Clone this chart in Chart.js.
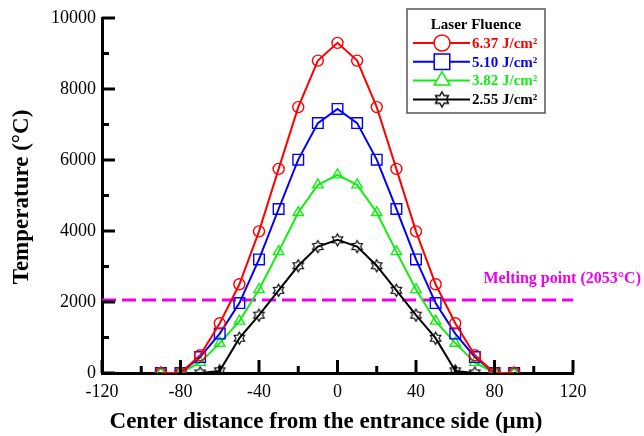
<!DOCTYPE html>
<html>
<head>
<meta charset="utf-8">
<script src="https://cdn.jsdelivr.net/npm/chart.js@4"></script>
<style>
  html, body { margin: 0; padding: 0; background: #fff; }
  #wrap { width: 644px; height: 436px; }
</style>
</head>
<body>
<div id="wrap"><canvas id="chart" width="644" height="436"></canvas></div>
<script>
// Center distance (µm) and temperature (°C) for each laser fluence
const distances = [-90, -80, -70, -60, -50, -40, -30, -20, -10, 0, 10, 20, 30, 40, 50, 60, 70, 80, 90];
const temp637 = [0, 0, 500, 1400, 2500, 3990, 5750, 7490, 8800, 9300, 8800, 7490, 5750, 3990, 2500, 1400, 500, 0, 0];
const temp510 = [0, 0, 450, 1110, 1970, 3200, 4620, 6010, 7040, 7440, 7040, 6010, 4620, 3200, 1970, 1110, 450, 0, 0];
const temp382 = [0, 0, 300, 840, 1460, 2350, 3420, 4520, 5300, 5580, 5300, 4520, 3420, 2350, 1460, 840, 300, 0, 0];
const temp255 = [0, 0, 0, 60, 980, 1630, 2330, 3020, 3560, 3750, 3560, 3020, 2330, 1630, 980, 60, 0, 0, 0];
const seriesLabels = ['6.37 J/cm²', '5.10 J/cm²', '3.82 J/cm²', '2.55 J/cm²'];
const meltingPoint = 2053;
const meltingLabel = 'Melting point (2053°C)';
const xTickLabels = [-120, -80, -40, 0, 40, 80, 120];
const yTickLabels = [0, 2000, 4000, 6000, 8000, 10000];

const SERIF = '"Liberation Serif", "Times New Roman", serif';
const RED = '#ff0000', BLUE = '#0000ff', GREEN = '#11ee11', BLACK = '#000000', MAGENTA = '#ee00ee';

// hollow six-pointed star marker
function hexagram(r, color, lw) {
    const s = Math.ceil(2 * r + lw * 2 + 2);
    const c = document.createElement('canvas');
    c.width = c.height = s;
    const g = c.getContext('2d');
    g.strokeStyle = color;
    g.lineWidth = lw;
    g.lineJoin = 'miter';
    g.beginPath();
    for (let k = 0; k < 12; k++) {
        const ang = -Math.PI / 2 + k * Math.PI / 6;
        const rr = k % 2 === 0 ? r : r / Math.sqrt(3);
        g.lineTo(s / 2 + rr * Math.cos(ang), s / 2 + rr * Math.sin(ang));
    }
    g.closePath();
    g.stroke();
    return c;
}

const toPoints = arr => distances.map((d, i) => ({ x: d, y: arr[i] }));

const series = (label, values, color, style, radius, legendRadius) => ({
    label,
    data: toPoints(values),
    borderColor: color,
    backgroundColor: 'transparent',
    borderWidth: 2,
    pointStyle: style,
    pointRadius: radius,
    pointBorderWidth: 1.4,
    pointBorderColor: color,
    pointBackgroundColor: 'transparent',
    tension: 0,
    legendRadius,
});

const datasets = [
    series(seriesLabels[0], temp637, RED, 'circle', 5.5, 8),
    series(seriesLabels[1], temp510, BLUE, 'rect', 7.5, 11),
    series(seriesLabels[2], temp382, GREEN, 'triangle', 6, 9),
    series(seriesLabels[3], temp255, BLACK, hexagram(6, BLACK, 1.2), 6, 0),
    {
        label: 'melting',
        data: [{ x: -120, y: meltingPoint }, { x: 120, y: meltingPoint }],
        borderColor: MAGENTA,
        borderWidth: 3,
        borderDash: [14, 6],
        pointRadius: 0,
        legendHidden: true,
    },
];
datasets[3].legendStyle = hexagram(7.5, BLACK, 1.4);

// inward tick marks, axis titles, legend box and melting label
const decor = {
    id: 'decor',
    afterDatasetsDraw(chart) {
        const { ctx, chartArea: a, scales: { x, y } } = chart;
        ctx.save();
        ctx.strokeStyle = '#000';
        ctx.lineWidth = 3;
        x.ticks.forEach(t => {
            const px = x.getPixelForValue(t.value);
            const len = xTickLabels.includes(t.value) ? 13 : 7;
            ctx.beginPath();
            ctx.moveTo(px, a.bottom);
            ctx.lineTo(px, a.bottom - len);
            ctx.stroke();
        });
        y.ticks.forEach(t => {
            const py = y.getPixelForValue(t.value);
            const len = yTickLabels.includes(t.value) ? 13 : 7;
            ctx.beginPath();
            ctx.moveTo(a.left, py);
            ctx.lineTo(a.left + len, py);
            ctx.stroke();
        });

        // axis titles
        ctx.fillStyle = '#000';
        ctx.font = 'bold 23px ' + SERIF;
        ctx.textAlign = 'center';
        ctx.textBaseline = 'middle';
        ctx.fillText('Center distance from the entrance side (μm)', 326, 422);
        ctx.save();
        ctx.translate(22, 197);
        ctx.rotate(-Math.PI / 2);
        ctx.fillText('Temperature (°C)', 0, 0);
        ctx.restore();

        // melting point label
        ctx.fillStyle = MAGENTA;
        ctx.font = 'bold 16px ' + SERIF;
        ctx.textAlign = 'right';
        ctx.fillText(meltingLabel, 641, y.getPixelForValue(meltingPoint) - 21);

        // legend
        const bx = 407, by = 9, bw = 138, bh = 104;
        ctx.fillStyle = '#fff';
        ctx.fillRect(bx, by, bw, bh);
        ctx.strokeStyle = '#555';
        ctx.lineWidth = 1.5;
        ctx.strokeRect(bx, by, bw, bh);
        ctx.fillStyle = '#000';
        ctx.font = 'bold 15px ' + SERIF;
        ctx.textAlign = 'center';
        ctx.fillText('Laser Fluence', 476, 25);
        ctx.textAlign = 'left';
        chart.data.datasets.filter(d => !d.legendHidden).forEach((d, i) => {
            const ly = 43 + i * 18.8;
            ctx.strokeStyle = d.borderColor;
            ctx.lineWidth = 2;
            ctx.beginPath();
            ctx.moveTo(413, ly);
            ctx.lineTo(470, ly);
            ctx.stroke();
            ctx.fillStyle = '#fff';
            ctx.lineWidth = 1.5;
            Chart.helpers.drawPoint(ctx, {
                pointStyle: d.legendStyle || d.pointStyle,
                radius: d.legendRadius || 8,
                rotation: 0,
                borderWidth: 1.5,
            }, 442, ly);
            ctx.fillStyle = d.borderColor;
            ctx.fillText(d.label, 472, ly + 1);
        });
        ctx.restore();
    }
};

const tickFont = { family: SERIF, size: 18 };

new Chart(document.getElementById('chart'), {
    type: 'line',
    data: { datasets },
    options: {
        responsive: false,
        animation: false,
        devicePixelRatio: 1,
        layout: { padding: { top: 18, right: 71, left: 0, bottom: 0 } },
        plugins: { legend: { display: false }, tooltip: { enabled: false } },
        scales: {
            x: {
                type: 'linear',
                min: -120,
                max: 120,
                afterFit(s) { s.height = 63; },
                grid: { drawOnChartArea: false, drawTicks: false },
                border: { color: '#000', width: 3 },
                ticks: {
                    stepSize: 20,
                    autoSkip: false,
                    maxRotation: 0,
                    padding: 8,
                    color: '#000',
                    font: tickFont,
                    callback: v => (xTickLabels.includes(v) ? String(v) : ''),
                },
            },
            y: {
                type: 'linear',
                min: 0,
                max: 10000,
                afterFit(s) { s.width = 102; },
                grid: { drawOnChartArea: false, drawTicks: false },
                border: { color: '#000', width: 3 },
                ticks: {
                    stepSize: 1000,
                    autoSkip: false,
                    padding: 6,
                    color: '#000',
                    font: tickFont,
                    callback: v => (yTickLabels.includes(v) ? String(v) : ''),
                },
            },
        },
    },
    plugins: [decor],
});
</script>
</body>
</html>
